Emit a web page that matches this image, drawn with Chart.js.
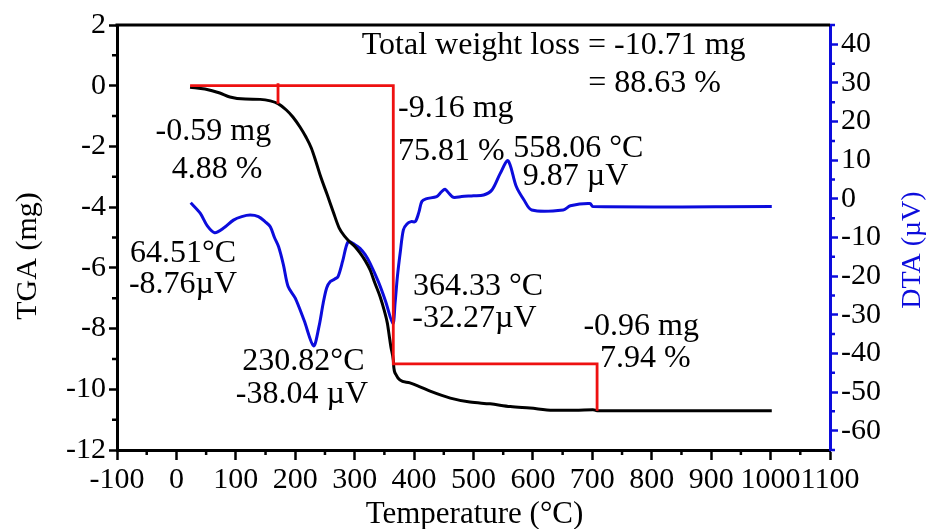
<!DOCTYPE html>
<html>
<head>
<meta charset="utf-8">
<title>TGA / DTA</title>
<script src="https://cdn.jsdelivr.net/npm/chart.js@4.4.1/dist/chart.umd.min.js"></script>
<style>
  html, body { margin: 0; padding: 0; background: #fff; }
  canvas { display: block; }
</style>
</head>
<body>
<canvas id="myChart" width="929" height="529"></canvas>
<script>
// TGA curve: temperature (°C) vs mass change (mg)
const tgaTemp = [23, 48, 73, 90, 116, 141, 158, 171, 185, 196, 208, 218, 227, 235, 243, 254, 264, 274, 284, 292,
  301, 309, 318, 326, 334, 343, 350, 355, 358, 361, 365, 366, 370, 376, 393, 410, 427, 461, 494, 528,
  562, 595, 634, 671, 701, 708, 797, 1002];
const tgaMass = [-0.05, -0.11, -0.24, -0.37, -0.44, -0.45, -0.50, -0.59, -0.80, -1.03, -1.36, -1.69, -2.05, -2.51, -3.01, -3.60, -4.16, -4.69, -4.98, -5.15,
  -5.31, -5.51, -5.77, -6.07, -6.50, -6.96, -7.42, -7.82, -8.21, -8.61, -9.04, -9.30, -9.53, -9.69, -9.79, -9.92, -10.06, -10.29, -10.42, -10.48,
  -10.57, -10.62, -10.69, -10.69, -10.67, -10.71, -10.71, -10.71];

// DTA curve: temperature (°C) vs signal (µV)
const dtaTemp = [24, 40, 52, 64.51, 80, 96, 110, 124, 138, 150, 158, 165, 172, 180, 188, 200, 215, 230.82, 240, 247,
  253, 259, 266, 272, 280, 289, 300, 309, 318, 326, 340, 352, 364.33, 368, 372, 377, 382, 388, 395, 402,
  408, 413, 420, 438, 446, 452, 459, 466, 480, 500, 517, 531, 545, 558.06, 572, 585, 598, 651, 663, 696,
  701, 1002];
const dtaSignal = [-1.0, -3.7, -7.0, -8.76, -7.5, -5.5, -4.6, -4.2, -4.6, -6.0, -7.2, -10.0, -12.4, -17.0, -22.7, -25.7, -31.5, -38.04, -33.0, -27.0,
  -23.0, -21.4, -20.8, -20.1, -16.0, -11.1, -11.8, -12.8, -14.5, -16.7, -21.5, -26.5, -32.27, -27.0, -20.0, -13.5, -8.0, -6.5, -5.9, -5.9,
  -3.5, -0.7, 0.0, 0.6, 1.8, 2.5, 1.4, 0.4, 0.6, 0.8, 1.0, 2.3, 6.6, 9.87, 3.2, -0.3, -2.9, -2.9, -1.8, -1.2,
  -2.0, -2.0];

// red guide lines for the weight-loss steps
const stepTemp = [23, 365, 365, 708, 708];
const stepMass = [0, 0, -9.16, -9.16, -10.71];
const firstStepTemp = [171, 171];
const firstStepMass = [0.08, -0.59];

// tick values
const tempTicks = [-100, 0, 100, 200, 300, 400, 500, 600, 700, 800, 900, 1000, 1100];
const tgaTicks = [-12, -10, -8, -6, -4, -2, 0, 2];
const dtaTicks = [-60, -50, -40, -30, -20, -10, 0, 10, 20, 30, 40];

// text labels, anchored in (°C, mg)
const notes = [
  { text: "Total weight loss = -10.71 mg", x: 312, y: 1.04 },
  { text: "= 88.63 %", x: 693, y: -0.21 },
  { text: "-0.59 mg", x: -35, y: -1.79 },
  { text: "4.88 %", x: -8, y: -3.04 },
  { text: "-9.16 mg", x: 373, y: -1.03 },
  { text: "75.81 %", x: 373, y: -2.45 },
  { text: "558.06 °C", x: 567, y: -2.35 },
  { text: "9.87 µV", x: 583, y: -3.27 },
  { text: "64.51°C", x: -78, y: -5.81 },
  { text: "-8.76µV", x: -80, y: -6.83 },
  { text: "230.82°C", x: 111, y: -9.36 },
  { text: "-38.04 µV", x: 100, y: -10.45 },
  { text: "364.33 °C", x: 398, y: -6.89 },
  { text: "-32.27µV", x: 397, y: -7.95 },
  { text: "-0.96 mg", x: 685, y: -8.21 },
  { text: "7.94 %", x: 713, y: -9.27 }
];

const SERIF = "'Liberation Serif', 'Times New Roman', serif";
const BLUE = '#0c0cdc';
const RED = '#ee1111';

const pts = (xs, ys) => xs.map((x, i) => ({ x: x, y: ys[i] }));

const setTicks = (vals) => (scale) => { scale.ticks = vals.map((v) => ({ value: v })); };

const plainLabel = (v) => String(v);

function halfSteps(vals) {
  const out = [];
  for (let i = 0; i < vals.length - 1; i++) out.push((vals[i] + vals[i + 1]) / 2);
  return out;
}

// minor ticks, plot frame top edge, axis titles and text labels
const extras = {
  id: 'extras',
  afterDraw(chart) {
    const { ctx, chartArea: a, scales } = chart;
    ctx.save();
    ctx.lineWidth = 2.5;
    ctx.lineCap = 'butt';

    ctx.strokeStyle = '#000';
    ctx.beginPath();
    halfSteps(tempTicks).forEach((v) => {
      const p = scales.x.getPixelForValue(v);
      ctx.moveTo(p, a.bottom); ctx.lineTo(p, a.bottom + 5);
    });
    halfSteps(tgaTicks).forEach((v) => {
      const p = scales.y.getPixelForValue(v);
      ctx.moveTo(a.left, p); ctx.lineTo(a.left - 5, p);
    });
    ctx.stroke();

    ctx.strokeStyle = BLUE;
    ctx.beginPath();
    halfSteps([-70].concat(dtaTicks, [50])).forEach((v) => {
      const p = scales.y1.getPixelForValue(v);
      ctx.moveTo(a.right, p); ctx.lineTo(a.right + 5, p);
    });
    ctx.stroke();

    // top edge of the frame
    ctx.strokeStyle = '#000';
    ctx.lineWidth = 3;
    ctx.beginPath();
    ctx.moveTo(a.left - 1.5, a.top);
    ctx.lineTo(a.right, a.top);
    ctx.stroke();

    // axis titles
    ctx.fillStyle = '#000';
    ctx.textAlign = 'center';
    ctx.textBaseline = 'alphabetic';
    ctx.font = '31px ' + SERIF;
    ctx.fillText('Temperature (°C)', (a.left + a.right) / 2 + 1, 523);

    ctx.textBaseline = 'middle';
    ctx.font = '30px ' + SERIF;
    ctx.save();
    ctx.translate(28, 256);
    ctx.rotate(-Math.PI / 2);
    ctx.fillText('TGA (mg)', 0, 0);
    ctx.restore();

    ctx.fillStyle = BLUE;
    ctx.font = '28px ' + SERIF;
    ctx.save();
    ctx.translate(913, 250);
    ctx.rotate(-Math.PI / 2);
    ctx.fillText('DTA (µV)', 0, 0);
    ctx.restore();

    // labels on the plot
    ctx.fillStyle = '#000';
    ctx.textAlign = 'left';
    ctx.textBaseline = 'alphabetic';
    ctx.font = '32px ' + SERIF;
    notes.forEach((n) => {
      ctx.fillText(n.text, scales.x.getPixelForValue(n.x), scales.y.getPixelForValue(n.y));
    });
    ctx.restore();
  }
};

Chart.defaults.font.family = SERIF;
Chart.defaults.font.size = 30;
Chart.defaults.color = '#000';

const data = {
  datasets: [
    {
      label: 'TGA',
      data: pts(tgaTemp, tgaMass),
      yAxisID: 'y',
      borderColor: '#000',
      borderWidth: 3,
      pointRadius: 0,
      cubicInterpolationMode: 'monotone',
      order: 2
    },
    {
      label: 'DTA',
      data: pts(dtaTemp, dtaSignal),
      yAxisID: 'y1',
      borderColor: BLUE,
      borderWidth: 3,
      pointRadius: 0,
      tension: 0.3,
      order: 3
    },
    {
      label: 'steps',
      data: pts(stepTemp, stepMass),
      yAxisID: 'y',
      borderColor: RED,
      borderWidth: 2.8,
      pointRadius: 0,
      tension: 0,
      order: 1
    },
    {
      label: 'first step',
      data: pts(firstStepTemp, firstStepMass),
      yAxisID: 'y',
      borderColor: RED,
      borderWidth: 2.8,
      pointRadius: 0,
      tension: 0,
      order: 1
    }
  ]
};

const options = {
  responsive: false,
  animation: false,
  layout: { padding: { left: 66, right: 48, top: 25, bottom: 24 } },
  plugins: {
    legend: { display: false },
    tooltip: { enabled: false }
  },
  scales: {
    x: {
      type: 'linear',
      min: -100,
      max: 1100,
      afterBuildTicks: setTicks(tempTicks),
      afterFit: (s) => { s.height = 55; },
      border: { color: '#000', width: 3 },
      grid: { drawOnChartArea: false, tickLength: 10, tickWidth: 2.5, tickColor: '#000' },
      ticks: { autoSkip: false, maxRotation: 0, minRotation: 0, padding: 2, color: '#000', callback: plainLabel }
    },
    y: {
      position: 'left',
      min: -12,
      max: 2,
      afterBuildTicks: setTicks(tgaTicks),
      afterFit: (s) => { s.width = 51; },
      border: { color: '#000', width: 3 },
      grid: { drawOnChartArea: false, tickLength: 8, tickWidth: 2.5, tickColor: '#000' },
      ticks: { padding: 3, color: '#000', callback: plainLabel }
    },
    y1: {
      position: 'right',
      min: -65,
      max: 45,
      afterBuildTicks: setTicks(dtaTicks),
      afterFit: (s) => { s.width = 51; },
      border: { color: BLUE, width: 3 },
      grid: { drawOnChartArea: false, tickLength: 8, tickWidth: 2.5, tickColor: BLUE },
      ticks: { padding: 3, color: '#000', callback: plainLabel }
    }
  }
};

const myChart = new Chart(document.getElementById('myChart'), {
  type: 'line',
  data: data,
  options: options,
  plugins: [extras]
});
</script>
</body>
</html>
